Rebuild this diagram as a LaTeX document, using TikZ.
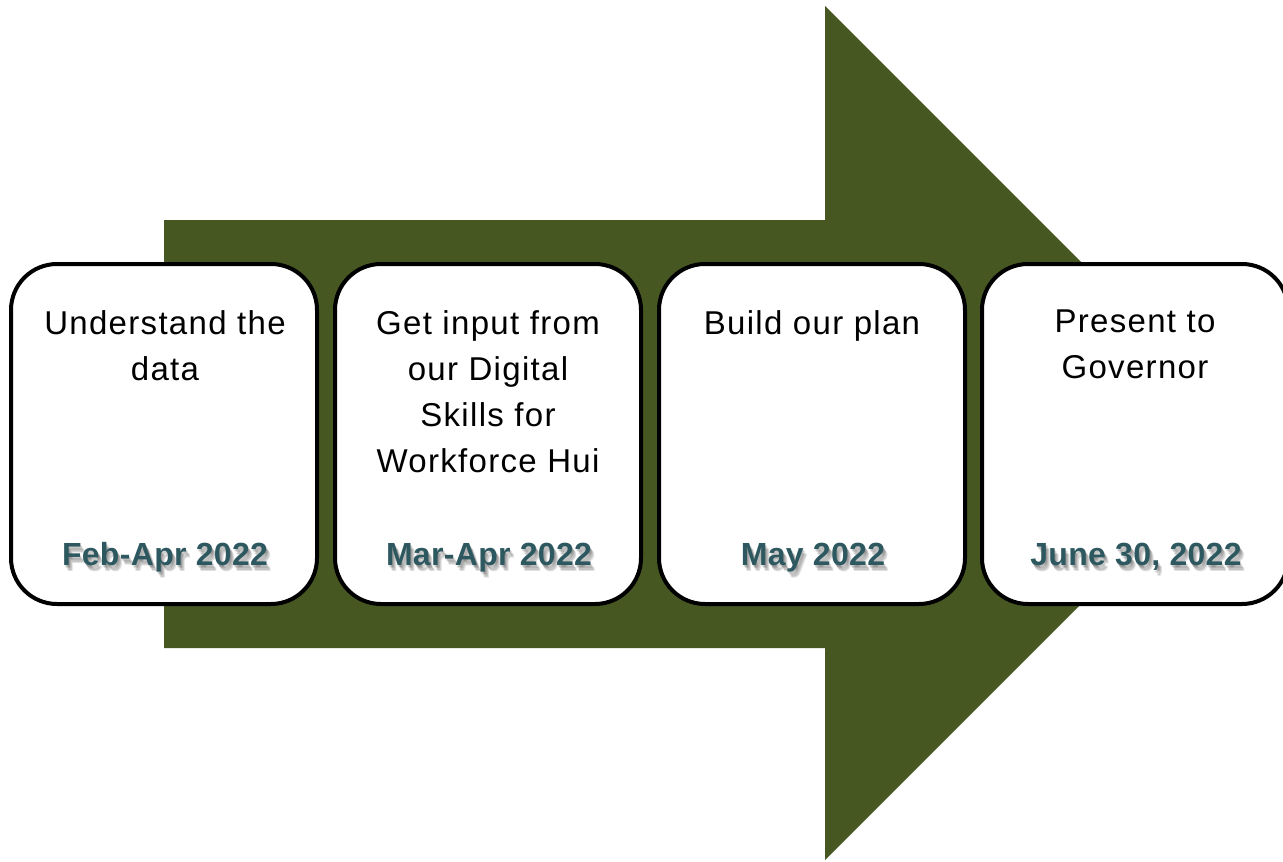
\documentclass[tikz,border=0pt]{standalone}
\usepackage{fontspec}
\setmainfont{Liberation Sans}
\newfontfamily\boxfont[LetterSpace=4]{Liberation Sans}
\newfontfamily\datefont[LetterSpace=1]{Liberation Sans Bold}
\definecolor{arrowgreen}{RGB}{71,87,34}
\definecolor{dateteal}{RGB}{45,88,95}
\tikzset{
  stagebox/.style={draw=black, line width=4pt, fill=white, rounded corners=46pt,
    minimum width=306pt, minimum height=340pt, inner sep=0pt},
  title/.style={anchor=north, inner sep=0pt, align=center,
    font=\boxfont\fontsize{33}{46}\selectfont},
  datelbl/.style={anchor=base, inner sep=0pt, text=dateteal,
    font=\datefont\fontsize{32}{38}\selectfont},
  dateshadow/.style={anchor=base, inner sep=0pt, text=black, opacity=0.12,
    font=\datefont\fontsize{32}{38}\selectfont},
}
\begin{document}
\begin{tikzpicture}[x=1pt,y=-1pt]
\useasboundingbox (0,0) rectangle (1283,862);
% big arrow
\fill[arrowgreen] (164,220) -- (825,220) -- (825,6) -- (1252,433) -- (825,860) -- (825,648) -- (164,648) -- cycle;
% boxes
\node[stagebox] (b1) at (164,434) {};
\node[stagebox] (b2) at (488,434) {};
\node[stagebox] (b3) at (812,434) {};
\node[stagebox] (b4) at (1135,434) {};
% titles
\node[title] (t1) at (165,310) {Understand the\\data};
\node[title] (t2) at (488,310) {Get input from\\our Digital\\Skills for\\Workforce Hui};
\node[title] (t3) at (812,310) {Build our plan};
\node[title] (t4) at (1135,310) {Present to\\Governor};
% date shadows (soft)
\foreach \cx/\txt in {164/Feb-Apr 2022, 488/Mar-Apr 2022, 812/May 2022, 1135/{June 30, 2022}}{
  \node[dateshadow] at (\cx+2,567) {\txt};
  \node[dateshadow] at (\cx+3,568.5) {\txt};
  \node[dateshadow] at (\cx+4,570) {\txt};
  \node[dateshadow] at (\cx+5,571) {\txt};
}
% dates
\node[datelbl] (d1) at (165,565) {Feb-Apr 2022};
\node[datelbl] (d2) at (489,565) {Mar-Apr 2022};
\node[datelbl] (d3) at (813,565) {May 2022};
\node[datelbl] (d4) at (1136,565) {June 30, 2022};
\end{tikzpicture}
\end{document}
